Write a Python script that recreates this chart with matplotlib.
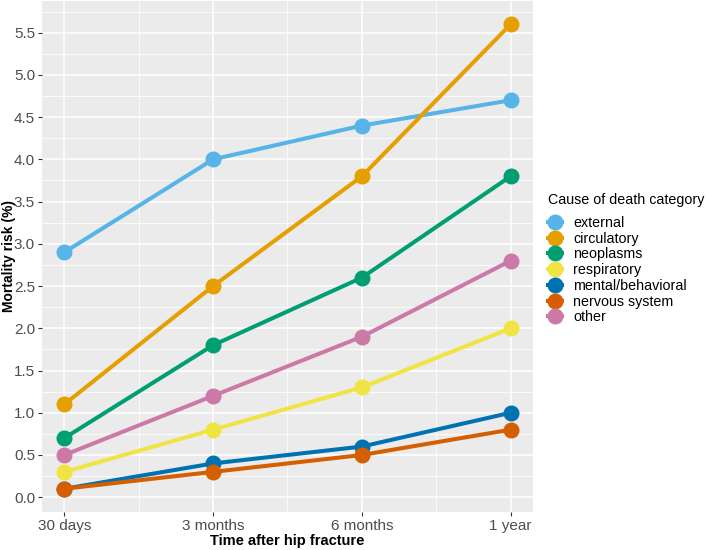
import matplotlib
matplotlib.use("Agg")
import matplotlib.pyplot as plt
from matplotlib.lines import Line2D
from matplotlib.ticker import MultipleLocator

time_labels = ["30 days", "3 months", "6 months", "1 year"]
categories = ["external", "circulatory", "neoplasms", "respiratory",
              "mental/behavioral", "nervous system", "other"]
external = [2.9, 4.0, 4.4, 4.7]
circulatory = [1.1, 2.5, 3.8, 5.6]
neoplasms = [0.7, 1.8, 2.6, 3.8]
respiratory = [0.3, 0.8, 1.3, 2.0]
mental = [0.1, 0.4, 0.6, 1.0]
nervous = [0.1, 0.3, 0.5, 0.8]
other = [0.5, 1.2, 1.9, 2.8]
series = [external, circulatory, neoplasms, respiratory, mental, nervous, other]
colors = ["#56B4E9", "#E69F00", "#009E73", "#F0E442", "#0072B2", "#D55E00", "#CC79A7"]

plt.rcParams['font.family'] = ['Liberation Sans', 'DejaVu Sans']

fig = plt.figure(figsize=(7.08, 5.5), dpi=100)
ax = fig.add_axes([42/708, 1 - 512/550, (533-42)/708, (512-1)/550])
ax.set_facecolor("#EBEBEB")
for s in ax.spines.values():
    s.set_visible(False)

x = list(range(1, len(time_labels) + 1))
for vals, c in zip(series, colors):
    ax.plot(x, vals, color=c, lw=2.9, marker="o", markersize=10.5, solid_capstyle="butt", zorder=3)

ax.set_xlim(1 - 0.15, 4 + 0.15)
ax.set_ylim(0.1 - 0.275, 5.6 + 0.275)
ax.set_xticks(x)
ax.set_xticklabels(time_labels)
ax.xaxis.set_minor_locator(MultipleLocator(0.5))
ax.yaxis.set_major_locator(MultipleLocator(0.5))
ax.yaxis.set_minor_locator(MultipleLocator(0.25))
ax.yaxis.set_major_formatter(matplotlib.ticker.FormatStrFormatter("%.1f"))
ax.grid(which="major", color="white", lw=1.1, zorder=0)
ax.grid(which="minor", color="white", lw=0.55, zorder=0)
ax.set_axisbelow(True)
ax.tick_params(which="major", length=3, width=0.8, color="#333333", labelsize=11,
               labelcolor="#4D4D4D", pad=2)
ax.tick_params(which="minor", length=0)

ax.set_xlabel("Time after hip fracture", fontsize=10.5, fontweight="bold", labelpad=1)
ax.set_ylabel("Mortality risk (%)", fontsize=10, fontweight="bold")
ax.yaxis.set_label_coords(-26/491, 0.5)

fig.text(548/708, 1 - 200/550, "Cause of death category", fontsize=10.3, va="center", ha="left")
handles = [Line2D([0], [0], color=c, lw=2.9, marker="o", markersize=10.5) for c in colors]
leg = fig.legend(handles, categories, loc="upper left", bbox_to_anchor=(548/708, 1 - 216/550),
                 frameon=False, fontsize=10.3, handlelength=1.0, handletextpad=0.75,
                 labelspacing=0.12, borderaxespad=0, borderpad=0)

fig.savefig("out.png", dpi=100)
